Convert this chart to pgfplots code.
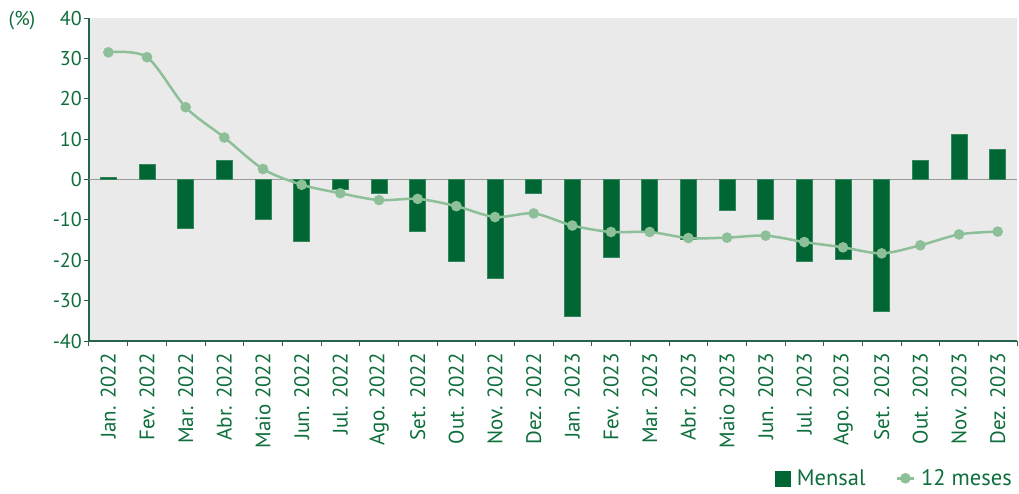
\documentclass[border=0pt]{standalone}
\usepackage{fontspec}
\setmainfont{PT Sans}
\usepackage{pgfplots}
\pgfplotsset{compat=1.18}
\definecolor{barg}{RGB}{0,102,51}
\definecolor{lineg}{RGB}{141,191,152}
\definecolor{txtg}{RGB}{14,110,60}
\definecolor{axg}{RGB}{40,100,75}
\definecolor{bgg}{RGB}{234,234,234}
\begin{document}
\begin{tikzpicture}
\useasboundingbox (-89pt,-152pt) rectangle (930pt,341pt);
\begin{axis}[
  scale only axis,
  width=928pt, height=323pt,
  xmin=-0.5, xmax=23.5,
  ymin=-40, ymax=40,
  ytick={-40,-30,...,40},
  xtick={0,...,23},
  xticklabels={Jan. 2022,Fev. 2022,Mar. 2022,Abr. 2022,Maio 2022,Jun. 2022,Jul. 2022,Ago. 2022,Set. 2022,Out. 2022,Nov. 2022,Dez. 2022,Jan. 2023,Fev. 2023,Mar. 2023,Abr. 2023,Maio 2023,Jun. 2023,Jul. 2023,Ago. 2023,Set. 2023,Out. 2023,Nov. 2023,Dez. 2023},
  minor xtick={-0.5,0.5,...,23.5},
  major x tick style={draw=none},
  minor tick length=5pt,
  major tick length=5pt,
  tick align=outside,
  tick style={axg, line width=1pt},
  axis x line*=bottom,
  axis y line*=left,
  axis line style={axg, line width=1.2pt, -},
  axis background/.style={fill=bgg},
  xticklabel style={rotate=90, anchor=east, font=\fontsize{21}{21}\selectfont, text=txtg, inner xsep=7pt, inner ysep=2pt},
  yticklabel style={font=\fontsize{20}{20}\selectfont, text=txtg, inner sep=2pt},
  /pgf/number format/assume math mode=true,
  legend style={at={(1,-0.425)}, anchor=east, draw=none, fill=none, legend columns=2,
    font=\fontsize{22.5}{22.5}\selectfont, text=txtg,
    /tikz/every odd column/.append style={column sep=4pt},
    /tikz/every even column/.append style={column sep=28pt}},
  clip=false,
]
\draw[gray!80, line width=1.2pt] (axis cs:-0.5,0) -- (axis cs:23.5,0);
\addplot[ybar, bar width=16pt, fill=barg, draw=barg!80!white, line width=0.4pt,
  legend image code/.code={\fill[barg] (0pt,-8pt) rectangle (15pt,7pt);}]
coordinates {
(0,0.5) (1,3.7) (2,-12.0) (3,4.8) (4,-9.9) (5,-15.2) (6,-2.4) (7,-3.4) (8,-12.7) (9,-20.2) (10,-24.5) (11,-3.4)
(12,-33.8) (13,-19.2) (14,-13.0) (15,-14.8) (16,-7.7) (17,-9.9) (18,-20.2) (19,-19.7) (20,-32.7) (21,4.8) (22,11.2) (23,7.4)
};
\addlegendentry{Mensal}
\addplot[lineg, line width=2.5pt, smooth, tension=0.5, mark=*, mark size=4pt, mark options={fill=lineg, draw=lineg}]
coordinates {
(0,31.5) (1,30.3) (2,17.9) (3,10.4) (4,2.6) (5,-1.3) (6,-3.4) (7,-5.1) (8,-4.8) (9,-6.6) (10,-9.3) (11,-8.4)
(12,-11.4) (13,-13.0) (14,-13.0) (15,-14.5) (16,-14.4) (17,-13.9) (18,-15.5) (19,-16.8) (20,-18.3) (21,-16.3) (22,-13.6) (23,-12.9)
};
\addlegendentry{12 meses}
\end{axis}
\node[anchor=center, text=txtg, font=\fontsize{20}{20}\selectfont] at (-67pt,320pt) {(\%)};
\end{tikzpicture}
\end{document}
